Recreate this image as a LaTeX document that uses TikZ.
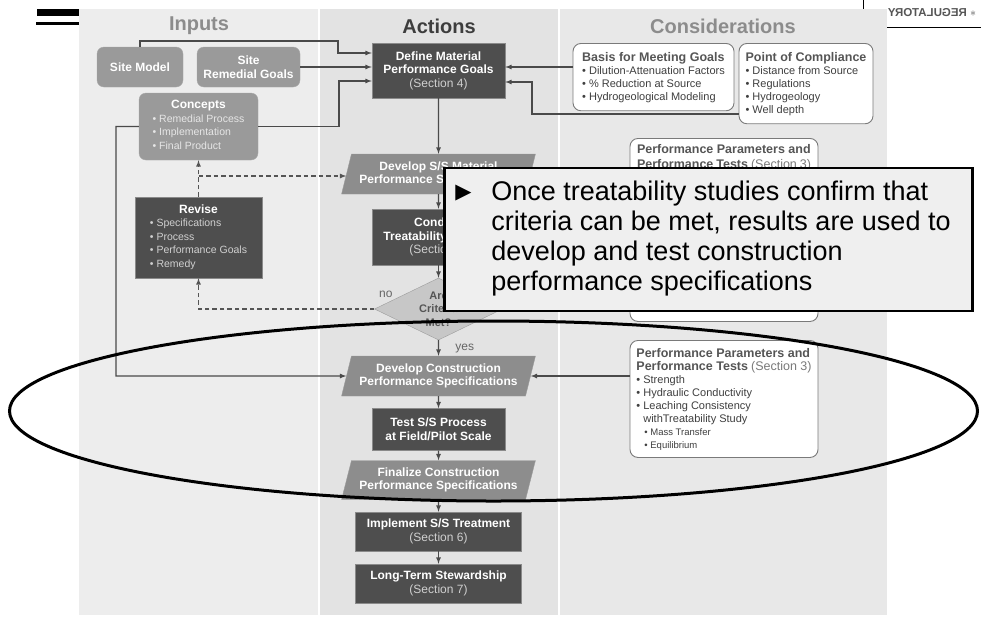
\documentclass[tikz,border=0pt]{standalone}
\usepackage{fontspec}
\setmainfont{Liberation Sans}
\newfontfamily\symfont{DejaVu Sans}
\usetikzlibrary{shapes.geometric}

\newlength{\du}
\setlength{\du}{1pt}

\definecolor{inputsbg}{HTML}{EDEDED}
\definecolor{actionsbg}{HTML}{E3E3E3}
\definecolor{considbg}{HTML}{E8E8E8}
\definecolor{headgray}{HTML}{8C8C8C}
\definecolor{headdark}{HTML}{3D3D3D}
\definecolor{inputfill}{HTML}{9A9A9A}
\definecolor{inputedge}{HTML}{A8A8A8}
\definecolor{darkfill}{HTML}{4E4E4E}
\definecolor{darkedge}{HTML}{8A8A8A}
\definecolor{specfill}{HTML}{8D8D8D}
\definecolor{specedge}{HTML}{9C9C9C}
\definecolor{diamfill}{HTML}{C7C7C7}
\definecolor{noteedge}{HTML}{7A7A7A}
\definecolor{linegray}{HTML}{4A4A4A}
\definecolor{dashgray}{HTML}{555555}
\definecolor{softtext}{HTML}{D0D0D0}
\definecolor{paletext}{HTML}{E6E6E6}
\definecolor{titlegray}{HTML}{555555}
\definecolor{listgray}{HTML}{3F3F3F}
\definecolor{labelgray}{HTML}{666666}
\definecolor{sectgray}{HTML}{7A7A7A}
\definecolor{calloutfill}{HTML}{EFEFEF}

\newcommand{\boxfont}{\fontsize{12}{13.5}\selectfont}
\newcommand{\inlistfont}{\fontsize{10.5}{13.5}\selectfont}
\newcommand{\listfont}{\fontsize{11}{13}\selectfont}
\newcommand{\titlefont}{\fontsize{12.5}{14.5}\selectfont\bfseries\color{titlegray}}
\newcommand{\itembul}{\textbullet\ }

\begin{document}
\begin{tikzpicture}[x=1\du,y=-1\du,
  inputbox/.style={rounded corners=7\du, fill=inputfill, draw=inputedge, text=white, font=\boxfont\bfseries, align=center, inner sep=0pt},
  actionbox/.style={fill=darkfill, draw=darkedge, text=white, font=\boxfont\bfseries, align=center, inner sep=0pt},
  specbox/.style={trapezium, trapezium left angle=70, trapezium right angle=110, trapezium stretches=true, fill=specfill, draw=specedge, text=white, font=\boxfont\bfseries, align=center, inner sep=0pt, minimum width=194\du, minimum height=40\du},
  checkbox/.style={diamond, aspect=2, fill=diamfill, draw=specedge, text=titlegray, font=\fontsize{11}{13.5}\selectfont\bfseries, align=center, inner sep=0pt, minimum width=128\du, minimum height=62\du},
  notebox/.style={rounded corners=8\du, fill=white, draw=noteedge, line width=0.9\du, text=listgray, font=\listfont, align=left, inner xsep=5\du, inner ysep=8.5\du, anchor=north},
  headtext/.style={font=\fontsize{20}{22}\selectfont\bfseries},
  flowtext/.style={text=labelgray, font=\fontsize{12}{14}\selectfont},
  flow/.style={draw=linegray, line width=1.2\du, -latex},
  backflow/.style={flow, draw=dashgray, dash pattern=on 4.5\du off 3\du}]
\useasboundingbox (0,0) rectangle (981,635);
\fill[white] (0,0) rectangle (981,635);

% slide edges
\fill[black] (37,9) rectangle (79,16);
\fill[black] (36,22) rectangle (79,25);
\draw[line width=0.8\du] (863,0) -- (863,9);
\draw[line width=0.8\du] (887,27) -- (981,27);
\node[xscale=-1, transform shape, text=titlegray, font=\fontsize{11.5}{12}\selectfont\bfseries] (regmark) at (932,13) {$\ast$ REGULATORY};

% columns
\fill[inputsbg] (79,9) rectangle (319,615);
\fill[actionsbg] (319,9) rectangle (559,615);
\fill[considbg] (559,9) rectangle (887,615);
\draw[white, line width=2\du] (319,9) -- (319,615);
\draw[white, line width=2\du] (559,9) -- (559,615);

\node[headtext, text=headgray] (inputshead) at (199,26) {Inputs};
\node[headtext, text=headdark] (actionshead) at (439,26) {Actions};
\node[headtext, text=headgray] (considhead) at (723,26) {Considerations};

% inputs
\node[inputbox, minimum width=86\du, minimum height=40\du] (sitemodel) at (140,67) {Site Model};
\node[inputbox, minimum width=103\du, minimum height=40\du] (sitegoals) at (248.5,67) {Site\\Remedial Goals};
\node[inputbox, minimum width=119\du, minimum height=67\du] (concepts) at (198.5,126.5)
  {\begin{tabular}{@{}c@{}}Concepts\\{\mdseries\inlistfont\color{paletext}\begin{tabular}{@{}l@{}}\itembul Remedial Process\\\itembul Implementation\\\itembul Final Product\end{tabular}}\end{tabular}};
\node[actionbox, minimum width=127\du, minimum height=81\du] (revise) at (198.5,237.5)
  {\begin{tabular}{@{}c@{}}Revise\\{\mdseries\inlistfont\color{softtext}\begin{tabular}{@{}l@{}}\itembul Specifications\\\itembul Process\\\itembul Performance Goals\\\itembul Remedy\end{tabular}}\end{tabular}};

% actions
\node[actionbox, minimum width=133\du, minimum height=55\du] (define) at (438.5,70.5) {Define Material\\Performance Goals\\{\mdseries\color{softtext}(Section 4)}};
\node[specbox] (devss) at (438.5,174) {Develop S/S Material\\Performance Specifications};
\node[actionbox, minimum width=132\du, minimum height=56\du] (conduct) at (438.5,237) {Conduct\\Treatability Studies\\{\mdseries\color{softtext}(Section 5)}};
\node[checkbox] (criteria) at (438.5,309) {Are\\Criteria\\Met?};
\node[specbox] (devcon) at (438.5,376) {Develop Construction\\Performance Specifications};
\node[actionbox, minimum width=133\du, minimum height=42\du] (test) at (438.5,429.5) {Test S/S Process\\at Field/Pilot Scale};
\node[specbox, minimum height=39\du] (finalize) at (438.5,480) {Finalize Construction\\Performance Specifications};
\node[actionbox, minimum width=166\du, minimum height=39\du] (implement) at (438.5,531.5) {Implement S/S Treatment\\{\mdseries\color{softtext}(Section 6)}};
\node[actionbox, minimum width=166\du, minimum height=39\du] (stewardship) at (438.5,583.5) {Long-Term Stewardship\\{\mdseries\color{softtext}(Section 7)}};

% considerations
\node[notebox, minimum width=161\du] (basis) at (653.5,43)
  {{\titlefont Basis for Meeting Goals}\\\itembul Dilution-Attenuation Factors\\\itembul \% Reduction at Source\\\itembul Hydrogeological Modeling};
\node[notebox, minimum width=134\du] (compliance) at (806,43)
  {{\titlefont Point of Compliance}\\\itembul Distance from Source\\\itembul Regulations\\\itembul Hydrogeology\\\itembul Well depth};
\node[notebox, inner xsep=7\du, inner ysep=6\du] (perfmid) at (724,138)
  {\begin{minipage}[t][171\du][t]{174\du}\titlefont Performance Parameters and\\Performance Tests {\mdseries\color{sectgray}(Section 3)}\end{minipage}};
\node[notebox, minimum width=188\du, minimum height=117\du, inner ysep=6\du] (perfbot) at (724,340)
  {{\titlefont Performance Parameters and}\\{\titlefont Performance Tests} {\fontsize{12.5}{14.5}\selectfont\color{sectgray}(Section 3)}\\\itembul Strength\\\itembul Hydraulic Conductivity\\\itembul Leaching Consistency\\\phantom{\itembul}withTreatability Study\\\hspace{8\du}{\fontsize{9.5}{12}\selectfont\itembul Mass Transfer}\\\hspace{8\du}{\fontsize{9.5}{12}\selectfont\itembul Equilibrium}};

% connectors
\draw[flow] (sitemodel.north) |- (338,41) |- (define.west |- 0,53);
\draw[flow] (sitegoals.east) -- (define.west |- sitegoals.east);
\draw[flow] (concepts.east) -| (339,81) -- (define.west |- 0,81);
\draw[flow] (concepts.west) -| (116,376) -- (devcon.west);
\draw[flow] (basis.west |- 0,67) -- (define.east |- 0,67);
\draw[flow] (compliance.west |- 0,114) -| (532,82) -- (define.east |- 0,82);
\draw[flow] (perfbot.west |- devcon.east) -- (devcon.east);
\foreach \a/\b in {define/devss, devss/conduct, conduct/criteria, devcon/test, test/finalize, finalize/implement, implement/stewardship}
  \draw[flow] (\a.south) -- (\b.north);
\draw[flow] (criteria.south) -- (devcon.north) node[at start, anchor=north west, xshift=13\du, flowtext] {yes};
\coordinate (branch) at (198.5,176);
\draw[backflow] (revise.north) -- (concepts.south);
\draw[backflow] (branch) -- (devss.west |- branch);
\draw[backflow] (criteria.west) -| (revise.south) node[at start, anchor=south west, xshift=1\du, yshift=7\du, flowtext] {no};

% callout
\node[draw=black, line width=2.5\du, fill=calloutfill, anchor=west, inner sep=0pt, minimum height=143\du, font=\fontsize{27}{30}\selectfont] (callout) at (443,239.5)
  {\makebox[528\du][l]{\hspace{11\du}\begin{tabular}{@{}l@{\hspace{20\du}}l@{}}\raisebox{2\du}{\symfont\fontsize{21}{21}\selectfont ▶} & Once treatability studies confirm that\\ & criteria can be met, results are used to\\ & develop and test construction\\ & performance specifications\end{tabular}}};

% highlight ring
\draw[line width=3\du] (493.5,411) ellipse [x radius=484\du, y radius=90\du];
\end{tikzpicture}
\end{document}
